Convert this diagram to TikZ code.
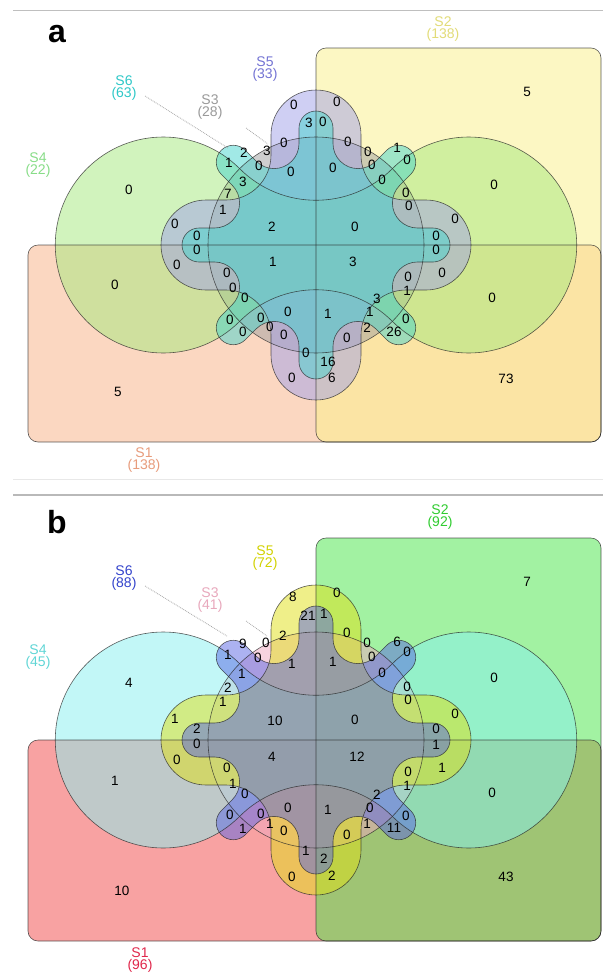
\documentclass[tikz,border=0pt]{standalone}
\usepackage{fontspec}
\setmainfont{Liberation Sans}
% panel a colours
\definecolor{aS1}{HTML}{F9B185}
\definecolor{aS2}{HTML}{FBF189}
\definecolor{aS3}{HTML}{A0A0A0}
\definecolor{aS4}{HTML}{A5E97D}
\definecolor{aS5}{HTML}{A1A1E9}
\definecolor{aS6}{HTML}{44D4CE}
\definecolor{aL1}{HTML}{E89C7C}
\definecolor{aL2}{HTML}{E2DC78}
\definecolor{aL3}{HTML}{9A9A9A}
\definecolor{aL4}{HTML}{88DD88}
\definecolor{aL5}{HTML}{7474D4}
\definecolor{aL6}{HTML}{2EC8C8}
% panel b colours
\definecolor{bS1}{HTML}{F34747}
\definecolor{bS2}{HTML}{47E747}
\definecolor{bS3}{HTML}{F0A8C0}
\definecolor{bS4}{HTML}{87F1F1}
\definecolor{bS5}{HTML}{E1E115}
\definecolor{bS6}{HTML}{5A66E4}
\definecolor{bL1}{HTML}{E0284C}
\definecolor{bL2}{HTML}{30CC30}
\definecolor{bL3}{HTML}{E8A8BC}
\definecolor{bL4}{HTML}{60D6D6}
\definecolor{bL5}{HTML}{D2D200}
\definecolor{bL6}{HTML}{3444CC}
\tikzset{
  outl/.style={draw=black!85, line width=0.6pt, draw opacity=0.75},
  setfill/.style={fill=#1, fill opacity=0.5},
  num/.style={font=\fontsize{13.5}{13.5}\selectfont, text=black, inner sep=0pt},
  setlab/.style={font=\fontsize{14}{12.5}\selectfont, align=center, inner sep=0pt},
  leader/.style={densely dotted, line width=0.8pt, draw=gray!70},
  panellab/.style={font=\fontsize{32}{32}\selectfont\bfseries, inner sep=0pt},
  sepline/.style={line width=#1}
}
% set boundaries relative to the centre of the circle (radius 108)
\def\SthreePath{(0,0) circle[radius=108]}
\def\SfourPath{(-76.37,76.37) arc[start angle=45,end angle=315,radius=108]
  arc[start angle=135,end angle=45,radius=108]
  arc[start angle=225,end angle=495,radius=108]
  arc[start angle=315,end angle=225,radius=108] -- cycle}
\def\SfivePath{(90,-45) \foreach \p in {0,90,180,270}{
  -- ({110*cos(\p)+45*sin(\p)},{110*sin(\p)-45*cos(\p)})
  arc[start angle={\p-90},end angle={\p+90},radius=45]
  -- ({90*cos(\p)-45*sin(\p)},{90*sin(\p)+45*cos(\p)})
  arc[start angle={\p-90},end angle={\p-180},radius=45] } -- cycle}
\def\SsixPath{(101.4,-17) \foreach \p in {0,45,...,315}{
  -- ({117*cos(\p)+17*sin(\p)},{117*sin(\p)-17*cos(\p)})
  arc[start angle={\p-90},end angle={\p+90},radius=17]
  -- ({101.4*cos(\p)-17*sin(\p)},{101.4*sin(\p)+17*cos(\p)})
  arc[start angle={\p-90},end angle={\p-225},radius=25] } -- cycle}
\begin{document}
\begin{tikzpicture}[x=1pt,y=1pt]
\useasboundingbox (0,0) rectangle (603,-975);
\fill[white] (0,0) rectangle (603,-975);
% separators
\draw[gray!50, sepline=1pt] (13,-10) -- (603,-10);
\draw[gray!18, sepline=0.8pt] (13,-479) -- (603,-479);
\draw[gray!55, sepline=1.3pt] (13,-495) -- (603,-495);

% ================= panel a =================
\node[panellab] (pa) at (57,-34) {a};
\fill[setfill=aS1, rounded corners=10pt] (28,-245) rectangle (601,-442);
\fill[setfill=aS2, rounded corners=10pt] (316,-48) rectangle (601,-442);
\begin{scope}[shift={(316,-245)}]
  \fill[setfill=aS3] \SthreePath;
  \fill[setfill=aS4] \SfourPath;
  \fill[setfill=aS5] \SfivePath;
  \fill[setfill=aS6] \SsixPath;
  \draw[outl] \SthreePath;
  \draw[outl] \SfourPath;
  \draw[outl] \SfivePath;
  \draw[outl] \SsixPath;
\end{scope}
\draw[outl, rounded corners=10pt] (28,-245) rectangle (601,-442);
\draw[outl, rounded corners=10pt] (316,-48) rectangle (601,-442);
\node[setlab, text=aL2] (la2) at (443,-29) {S2\\(138)};
\node[setlab, text=aL5] (la5) at (265,-69) {S5\\(33)};
\node[setlab, text=aL6] (la6) at (124,-88) {S6\\(63)};
\node[setlab, text=aL3] (la3) at (210,-107) {S3\\(28)};
\node[setlab, text=aL4] (la4) at (38,-165) {S4\\(22)};
\node[setlab, text=aL1] (la1) at (144,-460) {S1\\(138)};
\coordinate (ea6) at (228,-148);
\coordinate (ea3) at (268,-144);
\draw[leader] (145,-96) -- (ea6);
\draw[leader] (246,-128) -- (ea3);
\foreach \x/\y/\t [count=\i] in {527/92/5, 129/190/0, 494/185/0, 115/285/0, 492/298/0, 118/392/5, 506/379/73,
 294/105/0, 337/102/0, 309/123/3, 323/122/0, 284/143/0, 267/151/3, 244/153/2, 229/163/1, 259/166/0,
 291/172/0, 333/168/0, 348/142/0, 368/152/0, 397/148/1, 407/160/0, 372/165/0, 382/180/0, 243/182/3,
 228/194/7, 223/210/1, 406/193/0, 409/206/0, 175/224/0, 272/227/2, 355/227/0, 455/219/0, 197/236/0,
 197/250/0, 436/236/0, 436/250/0, 273/262/1, 353/262/3, 177/265/0, 442/273/0, 227/273/0, 408/277/0,
 233/288/0, 407/291/1, 245/298/0, 377/299/3, 288/312/0, 328/314/1, 370/312/1, 230/320/0, 261/318/0,
 406/319/0, 270/327/0, 367/328/2, 394/332/26, 243/332/0, 284/335/0, 347/338/0, 306/353/0, 328/362/16,
 292/378/0, 332/378/6}
  \node[num] (na\i) at (\x,-\y) {\t};

% ================= panel b =================
\node[panellab] (pb) at (57,-522) {b};
\fill[setfill=bS1, rounded corners=10pt] (28,-740) rectangle (601,-941);
\fill[setfill=bS2, rounded corners=10pt] (316,-538) rectangle (601,-941);
\begin{scope}[shift={(316,-740)}]
  \fill[setfill=bS3] \SthreePath;
  \fill[setfill=bS4] \SfourPath;
  \fill[setfill=bS5] \SfivePath;
  \fill[setfill=bS6] \SsixPath;
  \draw[outl] \SthreePath;
  \draw[outl] \SfourPath;
  \draw[outl] \SfivePath;
  \draw[outl] \SsixPath;
\end{scope}
\draw[outl, rounded corners=10pt] (28,-740) rectangle (601,-941);
\draw[outl, rounded corners=10pt] (316,-538) rectangle (601,-941);
\node[setlab, text=bL2] (lb2) at (440,-517) {S2\\(92)};
\node[setlab, text=bL5] (lb5) at (265,-558) {S5\\(72)};
\node[setlab, text=bL6] (lb6) at (124,-578) {S6\\(88)};
\node[setlab, text=bL3] (lb3) at (210,-600) {S3\\(41)};
\node[setlab, text=bL4] (lb4) at (38,-657) {S4\\(45)};
\node[setlab, text=bL1] (lb1) at (140,-960) {S1\\(96)};
\coordinate (eb6) at (227,-636);
\coordinate (eb3) at (267,-636);
\draw[leader] (145,-586) -- (eb6);
\draw[leader] (246,-621) -- (eb3);
\foreach \x/\y/\t [count=\i] in {527/582/7, 129/683/4, 494/678/0, 115/781/1, 492/793/0, 122/891/10, 506/877/43,
 293/597/8, 337/593/0, 308/616/21, 324/614/1, 283/636/2, 266/643/0, 243/644/9, 228/655/1, 258/658/0,
 292/664/1, 333/662/1, 347/633/0, 367/643/0, 397/642/6, 407/652/0, 372/657/0, 382/673/0, 242/674/1,
 228/688/2, 223/702/1, 407/687/0, 408/700/0, 175/719/1, 275/721/10, 355/720/0, 455/714/0, 197/729/2,
 197/744/0, 436/729/0, 436/745/1, 272/757/4, 357/757/12, 177/760/0, 442/768/1, 227/768/0, 408/772/0,
 233/784/1, 407/786/1, 245/794/0, 377/795/2, 288/808/0, 328/810/1, 370/808/0, 230/815/0, 261/814/0,
 406/816/0, 270/824/1, 367/824/1, 394/828/11, 243/829/1, 284/831/0, 347/835/0, 306/851/1, 324/859/2,
 292/877/0, 332/876/2}
  \node[num] (nb\i) at (\x,-\y) {\t};
\end{tikzpicture}
\end{document}
